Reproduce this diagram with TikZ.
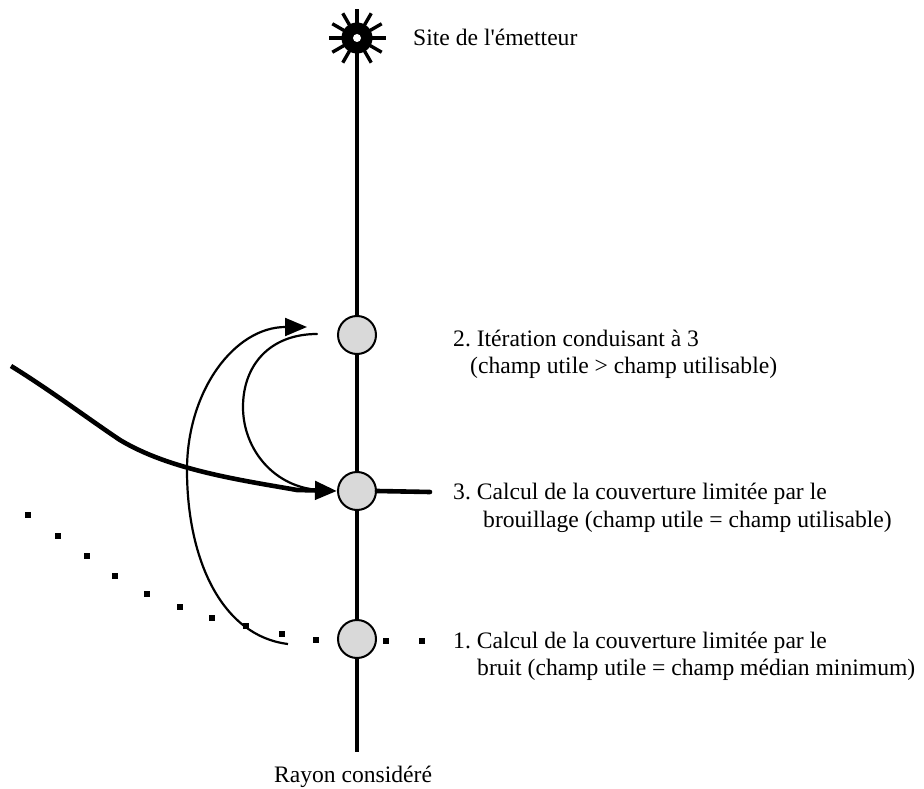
\documentclass[tikz,border=0pt]{standalone}
\usepackage{fontspec}
\newfontfamily\lserif{Liberation Serif}
\usetikzlibrary{arrows.meta}
\tikzset{
  px/.style={x=1pt,y=-1pt},
  stem/.style={line width=4pt,black},
  disc/.style={circle,draw=black,line width=2pt,fill=black!15,minimum size=38pt,inner sep=0pt},
  lab/.style={anchor=base west,inner sep=0pt,font=\lserif\frenchspacing\fontsize{23.6}{26}\selectfont},
  dotm/.style={fill=black,minimum size=5.5pt,inner sep=0pt,rectangle},
  thin arc/.style={line width=2.2pt,line cap=round},
  thick path/.style={line width=4.6pt,line cap=round},
  head/.style={-{Triangle[length=22pt,width=18pt]}},
}
\begin{document}
\begin{tikzpicture}[px]
\useasboundingbox (0,0) rectangle (924,789);
\coordinate (top) at (357,38);
\coordinate (bottom) at (357,752);
\draw[stem] (top) -- (bottom);
% sun
\foreach \a in {0,30,...,330}
  \draw[line width=3.4pt] (top) -- ++(\a:28.5);
\node[circle,fill=black,minimum size=31pt,inner sep=0pt] (sun) at (top) {};
\node[circle,fill=white,minimum size=8pt,inner sep=0pt] (hole) at (top) {};
% dots
\foreach \x/\y [count=\i] in {28/515,58/536,87/556,115/576,147/594,180/607,212/618,246/626,282/634,316/640,386/641,422/641}
  \node[dotm] (d\i) at (\x,\y) {};
% thick path
\coordinate (tstart) at (11,366);
\coordinate (tend) at (430,492);
\node[disc] (c2) at (357,335) {};
\coordinate (a1s) at (288,644);
\coordinate (a1e) at (307,327);
\coordinate (a2s) at (317,334);
\coordinate (a2e) at (320,490);
\draw[thin arc] (a2s) .. controls (270,334) and (243,365) .. (243,407) .. controls (243,450) and (275,488) .. (a2e);
\draw[thin arc,head,line cap=butt] (a1s) .. controls (222,636) and (187,560) .. (187,470) .. controls (187,390) and (235,327) .. (a1e);
\node[disc] (c1) at (357,639) {};
\node[disc] (c3) at (357,491) {};
\draw[thick path] (c3.east) -- (tend);
\draw[thick path,line cap=butt,head] (tstart) .. controls (50,390) and (90,420) .. (120,440) .. controls (170,470) and (240,480) .. (297,490) -- (c3.west);
% text
\node[lab] (t0) at (413,46) {Site de l'émetteur};
\node[lab] (t1) at (453,346) {2. Itération conduisant à 3};
\node[lab] (t2) at (470,373) {(champ utile > champ utilisable)};
\node[lab] (t3) at (453,499) {3. Calcul de la couverture limitée par le};
\node[lab] (t4) at (483,527) {brouillage (champ utile = champ utilisable)};
\node[lab] (t5) at (453,648) {1. Calcul de la couverture limitée par le};
\node[lab] (t6) at (477,675) {bruit (champ utile = champ médian minimum)};
\node[lab,anchor=base] (t7) at (353,782) {Rayon considéré};
\end{tikzpicture}
\end{document}
